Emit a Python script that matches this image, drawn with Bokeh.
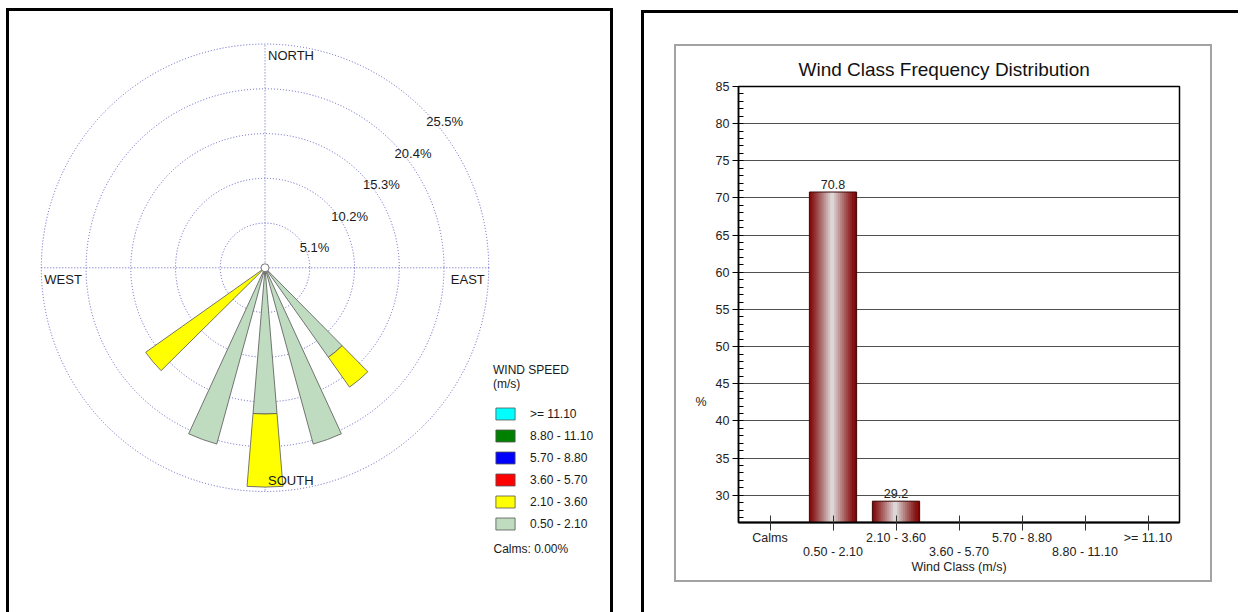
import numpy as np
from bokeh.plotting import figure
from bokeh.models import (Range1d, ColumnDataSource, Legend, LegendItem,
                          Label, SingleIntervalTicker, LinearAxis, FixedTicker)
from bokeh.layouts import row, column
from bokeh.transform import dodge
from bokeh.core.properties import value
from bokeh.embed import file_html
from bokeh.resources import INLINE

FONT = "Liberation Sans"
TXT = "#1a1a1a"

# ---------------- wind rose data ----------------
directions_deg = [140, 160, 180, 200, 230]          # degrees from north
freq_0p50_2p10 = [12.50, 20.83, 16.67, 20.83, 0.00]  # %
freq_2p10_3p60 = [4.17, 0.00, 8.33, 0.00, 16.67]
freq_3p60_5p70 = [0.00, 0.00, 0.00, 0.00, 0.00]
freq_5p70_8p80 = [0.00, 0.00, 0.00, 0.00, 0.00]
freq_8p80_11p10 = [0.00, 0.00, 0.00, 0.00, 0.00]
freq_ge_11p10 = [0.00, 0.00, 0.00, 0.00, 0.00]
speed_bins = ["0.50 - 2.10", "2.10 - 3.60", "3.60 - 5.70", "5.70 - 8.80", "8.80 - 11.10", ">= 11.10"]
bin_colors = ["#c0dcc0", "#ffff00", "#ff0000", "#0000ff", "#008000", "#00ffff"]
ring_values = [5.1, 10.2, 15.3, 20.4, 25.5]
ring_labels = ["5.1%", "10.2%", "15.3%", "20.4%", "25.5%"]
compass_labels = ["NORTH", "EAST", "SOUTH", "WEST"]
calms_pct = 0.00

# ---------------- bar chart data ----------------
wind_classes = ["Calms", "0.50 - 2.10", "2.10 - 3.60", "3.60 - 5.70", "5.70 - 8.80", "8.80 - 11.10", ">= 11.10"]
class_freq = [0.0, 70.8, 29.2, 0.0, 0.0, 0.0, 0.0]

# ================= wind rose figure =================
PX_PER_PCT = 44.3 / 5.1
W1, H1 = 607, 604          # outer size incl. 3px CSS borders (left/top/right)
FW, FH = W1 - 6, H1 - 3    # drawable canvas
CX, CY = 253, 255          # rose centre inside the canvas (px from left / top)
rose = figure(width=W1, height=H1,
              x_range=Range1d(-CX / PX_PER_PCT, (FW - CX) / PX_PER_PCT),
              y_range=Range1d(-(FH - CY) / PX_PER_PCT, CY / PX_PER_PCT),
              x_axis_location=None, y_axis_location=None,
              output_backend="svg", toolbar_location=None, min_border=0,
              styles={"margin-left": "6px", "margin-top": "8px",
                      "border-left": "3px solid black", "border-top": "3px solid black",
                      "border-right": "3px solid black"})
rose.frame_align = False
rose.grid.visible = False
rose.outline_line_color = None
rose.background_fill_color = "white"

RMAX = max(ring_values)
ring_col = "#5f5fc4"
rose.circle(x=0, y=0, radius=ring_values, fill_color=None, line_color=ring_col,
            line_dash="1 2", line_width=1)
rose.segment(x0=[-RMAX, 0], y0=[0, -RMAX], x1=[RMAX, 0], y1=[0, RMAX],
             line_color=ring_col, line_dash="1 2", line_width=1)

HALF = 4.7
dirs = np.asarray(directions_deg, float)
cum = np.zeros(len(dirs))
bin_renderers = []
for vals, col in zip([freq_0p50_2p10, freq_2p10_3p60, freq_3p60_5p70, freq_5p70_8p80,
                      freq_8p80_11p10, freq_ge_11p10], bin_colors):
    v = np.asarray(vals, float)
    has = v > 0
    src = ColumnDataSource(dict(inner=np.where(has, cum, 0.0), outer=np.where(has, cum + v, 0.0),
                                start=np.radians(90 - dirs - HALF),
                                end=np.radians(90 - dirs + HALF)))
    r = rose.annular_wedge(x=0, y=0, inner_radius="inner", outer_radius="outer",
                           start_angle="start", end_angle="end",
                           fill_color=col, line_color="#555555", line_width=0.8, source=src)
    bin_renderers.append(r)
    cum = cum + v

rose.scatter(x=[0], y=[0], size=8, marker="circle", fill_color="white",
             line_color="#777777", line_width=1)

tkw = dict(text_font=value(FONT), text_font_size="13px", text_color=TXT)
rose.text(x=[0], y=[RMAX], text=[compass_labels[0]], text_align="left", text_baseline="top",
          x_offset=3, y_offset=3, **tkw)
rose.text(x=[RMAX], y=[0], text=[compass_labels[1]], text_align="right", text_baseline="top",
          x_offset=-4, y_offset=4, **tkw)
rose.text(x=[0], y=[-RMAX], text=[compass_labels[2]], text_align="left", text_baseline="bottom",
          x_offset=3, y_offset=-2, **tkw)
rose.text(x=[-RMAX], y=[0], text=[compass_labels[3]], text_align="left", text_baseline="top",
          x_offset=3, y_offset=4, **tkw)
rv = np.asarray(ring_values)
rose.text(x=rv * np.cos(np.pi / 4), y=rv * np.sin(np.pi / 4), text=ring_labels,
          text_align="left", text_baseline="top", x_offset=3, y_offset=4, **tkw)

items = [LegendItem(label=lab, renderers=[r])
         for lab, r in reversed(list(zip(speed_bins, bin_renderers)))]
legend = Legend(items=items, location=(484, 84), title="WIND SPEED\n(m/s)",
                title_text_font=FONT, title_text_font_size="12px", title_text_font_style="normal",
                title_text_color=TXT, title_standoff=15,
                label_text_font=FONT, label_text_font_size="12px", label_text_color=TXT,
                glyph_width=24, glyph_height=15, label_height=15, label_standoff=13,
                spacing=7, padding=0, margin=0, border_line_color=None,
                background_fill_alpha=0)
rose.add_layout(legend)
rose.add_layout(Label(x=484, y=67, x_units="screen", y_units="screen",
                      text=f"Calms: {calms_pct:.2f}%", text_font=FONT, text_font_size="12px",
                      text_color=TXT, text_baseline="middle"))

# ================= bar chart figure =================
n_cls = len(wind_classes)
class_pos = [i + 0.5 for i in range(n_cls)]   # centre of each class slot on the x scale

W2, H2 = 538, 538          # outer size incl. 2px gray CSS border
bar = figure(width=W2, height=H2, x_range=Range1d(0, n_cls),
             y_range=Range1d(26.33, 85), title="Wind Class Frequency Distribution",
             output_backend="svg", toolbar_location=None,
             min_border_left=62, min_border_right=35, min_border_top=40, min_border_bottom=62,
             styles={"border": "2px solid #a3a3a3"})
bar.frame_align = False
bar.title.align = "left"
bar.title.offset = 60
bar.title.text_font = FONT
bar.title.text_font_size = "19px"
bar.title.text_font_style = "normal"
bar.title.text_color = "#111111"
bar.title.standoff = 13

bar.outline_line_color = "black"
bar.outline_line_width = 1.5
bar.xgrid.visible = False
bar.ygrid.grid_line_color = "#505050"
bar.ygrid.grid_line_width = 1

src = ColumnDataSource(dict(pos=class_pos, cls=wind_classes, freq=class_freq))
BW = 0.75
N = 24
dark = np.array([125, 0, 0])
light = np.array([226, 226, 226])
for i in range(N):
    t = (i + 0.5) / N * 2 - 1
    s = (1 - abs(t)) ** 1.15
    c = (dark + (light - dark) * s).astype(int)
    color = "#%02x%02x%02x" % tuple(c)
    off = -BW / 2 + (i + 0.5) * BW / N
    w = BW / N * (1.9 if 0 < i < N - 1 else 1.0)
    bar.vbar(x=dodge("pos", off), top="freq", bottom=0,
             width=w, fill_color=color, line_color=None, source=src)
bar.vbar(x="pos", top="freq", bottom=0, width=BW, fill_color=None,
         line_color="#3a0808", line_width=1, source=src)

lab_src = ColumnDataSource(dict(
    pos=[p for p, f in zip(class_pos, class_freq) if f > 0],
    freq=[f for f in class_freq if f > 0],
    txt=[f"{f:.1f}" for f in class_freq if f > 0]))
bar.text(x="pos", y="freq", text="txt", source=lab_src, text_align="center",
         text_baseline="bottom", y_offset=-3, text_font=value(FONT),
         text_font_size="12.5px", text_color="#222222")

yax = bar.yaxis[0]
yax.ticker = SingleIntervalTicker(interval=5, num_minor_ticks=5)
yax.major_tick_out = 6
yax.major_tick_in = 0
yax.minor_tick_in = 5
yax.minor_tick_out = 0
yax.axis_line_width = 1.5
yax.major_label_standoff = 3
yax.major_label_text_font = FONT
yax.major_label_text_font_size = "12.5px"
yax.major_label_text_color = "#222222"

# "%" unit label beside the y axis
pct_axis = LinearAxis(ticker=FixedTicker(ticks=[42.6], minor_ticks=[]),
                      major_label_overrides={42.6: "%"},
                      axis_line_color=None, major_tick_line_color=None,
                      minor_tick_line_color=None, major_tick_out=0, major_tick_in=0,
                      major_label_standoff=6, major_label_text_font=FONT,
                      major_label_text_font_size="12.5px", major_label_text_color="#222222")
bar.add_layout(pct_axis, "left")

lab_kw = dict(major_label_text_font=FONT, major_label_text_font_size="12.5px",
              major_label_text_color="#222222")
# first row of class labels (even classes) with the tick marks
xax = bar.xaxis[0]
xax.ticker = FixedTicker(ticks=class_pos, minor_ticks=[])
xax.axis_line_width = 2
xax.major_tick_in = 7
xax.major_tick_out = 8
xax.major_tick_line_color = "#333333"
xax.major_label_standoff = 0
for k, v in lab_kw.items():
    setattr(xax, k, v)
xax.major_label_overrides = {p: (c if i % 2 == 0 else "")
                             for i, (p, c) in enumerate(zip(class_pos, wind_classes))}

# second row of class labels (odd classes) and the axis title
xax2 = LinearAxis(ticker=FixedTicker(ticks=class_pos, minor_ticks=[]),
                  axis_line_color=None, major_tick_line_color=None, minor_tick_line_color=None,
                  major_tick_out=0, major_tick_in=0, major_label_standoff=-3,
                  major_label_overrides={p: (c if i % 2 == 1 else "")
                                         for i, (p, c) in enumerate(zip(class_pos, wind_classes))},
                  axis_label="Wind Class (m/s)", axis_label_text_font=FONT,
                  axis_label_text_font_size="12.5px", axis_label_text_font_style="normal",
                  axis_label_text_color="#222222", axis_label_standoff=-2, **lab_kw)
bar.add_layout(xax2, "below")

panel = column(bar, styles={"margin-top": "10px", "margin-left": "28px",
                            "border-left": "3px solid black", "border-top": "3px solid black",
                            "padding-left": "30px", "padding-top": "31px",
                            "padding-right": "26px", "padding-bottom": "30px"})

layout = row(rose, panel)
open("out.html", "w").write(file_html(layout, INLINE))
